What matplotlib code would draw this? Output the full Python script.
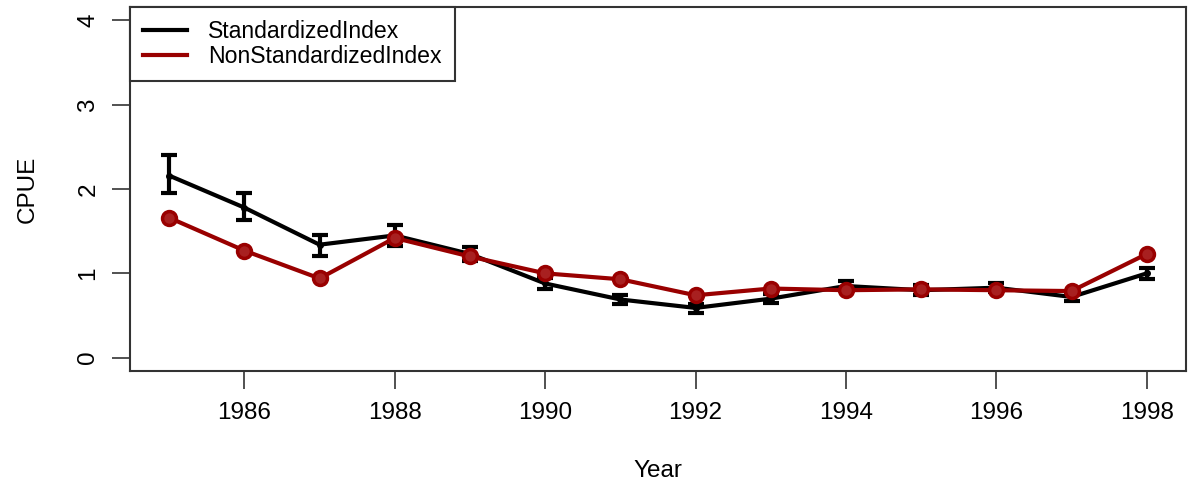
import numpy as np
import matplotlib.pyplot as plt

plt.rcParams['font.family'] = ['Liberation Sans', 'DejaVu Sans']

years = np.arange(1985, 1999)
std_index = [2.16, 1.78, 1.34, 1.45, 1.23, 0.88, 0.69, 0.59, 0.70, 0.85, 0.80, 0.83, 0.72, 1.00]
std_lower = [1.95, 1.63, 1.21, 1.33, 1.15, 0.82, 0.64, 0.53, 0.65, 0.80, 0.74, 0.78, 0.67, 0.93]
std_upper = [2.40, 1.95, 1.46, 1.57, 1.31, 0.94, 0.74, 0.64, 0.76, 0.91, 0.86, 0.89, 0.77, 1.06]
nonstd_index = [1.66, 1.27, 0.94, 1.42, 1.20, 1.00, 0.93, 0.74, 0.82, 0.80, 0.81, 0.80, 0.79, 1.23]

x_ticks = [1986, 1988, 1990, 1992, 1994, 1996, 1998]
y_ticks = [0, 1, 2, 3, 4]

red = '#990000'

fig = plt.figure(figsize=(11.93, 4.82), dpi=100)
ax = fig.add_axes([0.109, 0.230, 0.885, 0.7555])

yerr = [np.array(std_index) - np.array(std_lower), np.array(std_upper) - np.array(std_index)]
ax.errorbar(years, std_index, yerr=yerr, color='black', lw=3, elinewidth=3,
            capsize=6, capthick=3, marker='o', ms=4, label='StandardizedIndex', zorder=2)
ax.plot(years, nonstd_index, color=red, lw=3, marker='o', ms=10, mfc='#a82020', mec=red,
        mew=2.5, label='NonStandardizedIndex', zorder=3)

ax.set_xlim(1984.48, 1998.52)
ax.set_ylim(-0.16, 4.16)
ax.set_xticks(x_ticks)
ax.set_yticks(y_ticks)
ax.tick_params(axis='both', labelsize=17.5, length=13, width=1.2, color='#333333', pad=9)
ax.tick_params(axis='y', pad=9)
plt.setp(ax.get_yticklabels(), rotation=90, va='center')
for s in ax.spines.values():
    s.set_linewidth(1.5)
    s.set_color('#333333')

ax.set_xlabel('Year', fontsize=17.5, labelpad=26)
ax.set_ylabel('CPUE', fontsize=17.5, labelpad=28)

handles = [plt.Line2D([], [], color='black', lw=3), plt.Line2D([], [], color=red, lw=3)]
leg = ax.legend(handles, ['StandardizedIndex', 'NonStandardizedIndex'], loc='upper left',
                bbox_to_anchor=(0, 1), borderaxespad=0, fontsize=16.6, fancybox=False,
                framealpha=1, edgecolor='#333333', handlelength=1.9, labelspacing=0.1,
                borderpad=0.55, handletextpad=0.95)
leg.get_frame().set_linewidth(1.5)

fig.savefig('out.png', dpi=100)
